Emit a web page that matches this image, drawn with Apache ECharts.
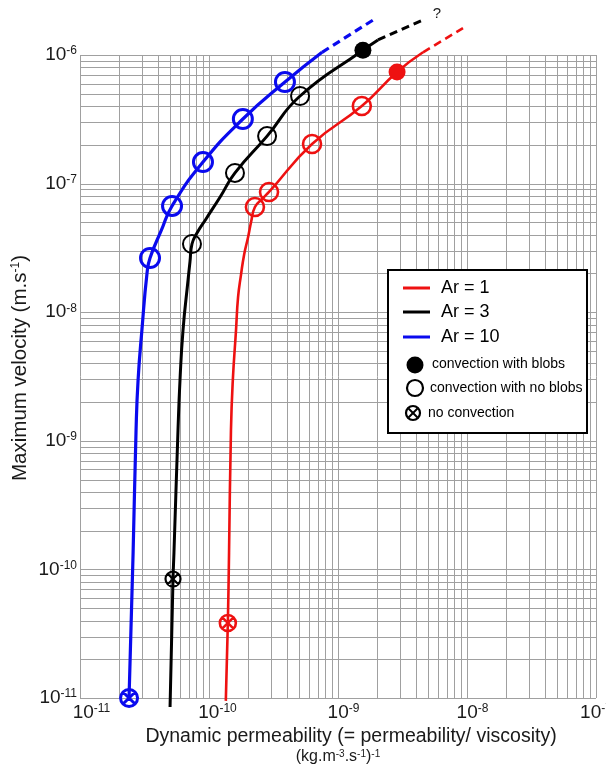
<!DOCTYPE html>
<html>
<head>
<meta charset="utf-8">
<script src="https://cdn.jsdelivr.net/npm/echarts@6/dist/echarts.min.js"></script>
<style>html,body{margin:0;padding:0;background:#fff}#c{width:606px;height:769px}</style>
</head>
<body>
<div id="c"></div>
<script>
// ---- data ----
const xTickExps = [-11, -10, -9, -8, -7];
const yTickExps = [-11, -10, -9, -8, -7, -6];

// Ar = 1 (red)
const ar1Line = [[1.35e-10,9.5e-12],[1.40e-10,3.83e-11],[1.43e-10,1.34e-10],[1.48e-10,1.21e-9],[1.53e-10,2.97e-9],[1.62e-10,7.27e-9],[1.68e-10,1.31e-8],[1.77e-10,1.95e-8],[1.87e-10,2.79e-8],[2.01e-10,3.85e-8],[2.12e-10,5.03e-8],[2.27e-10,6.58e-8],[2.58e-10,7.59e-8],[2.92e-10,8.61e-8],[6.29e-10,2.03e-7],[1.53e-9,4.01e-7],[2.87e-9,7.38e-7],[4.56e-9,1.05e-6]];
const ar1Dash = [[4.56e-9,1.05e-6],[9.31e-9,1.62e-6]];
const ar1Open = [[2.27e-10,6.58e-8],[2.92e-10,8.61e-8],[6.29e-10,2.03e-7],[1.53e-9,4.01e-7]];
const ar1Blob = [[2.87e-9,7.38e-7]];
const ar1NoConv = [[1.40e-10,3.83e-11]];

// Ar = 3 (black)
const ar3Line = [[4.99e-11,8.5e-12],[5.26e-11,8.42e-11],[5.35e-11,1.34e-10],[5.75e-11,1.21e-9],[5.96e-11,2.97e-9],[6.29e-11,7.27e-9],[6.88e-11,1.78e-8],[7.12e-11,2.46e-8],[7.38e-11,3.39e-8],[8.07e-11,4.13e-8],[9.48e-11,5.31e-8],[1.22e-10,7.87e-8],[1.59e-10,1.21e-7],[2.82e-10,2.34e-7],[5.08e-10,4.80e-7],[1.56e-9,1.09e-6],[2.04e-9,1.31e-6]];
const ar3Dash = [[2.04e-9,1.31e-6],[4.56e-9,1.87e-6]];
const ar3Open = [[7.38e-11,3.39e-8],[1.59e-10,1.21e-7],[2.82e-10,2.34e-7],[5.08e-10,4.80e-7]];
const ar3Blob = [[1.56e-9,1.09e-6]];
const ar3NoConv = [[5.26e-11,8.42e-11]];

// Ar = 10 (blue)
const ar10Line = [[2.40e-11,1.0e-11],[2.58e-11,1.34e-10],[2.72e-11,1.21e-9],[2.82e-11,2.97e-9],[3.02e-11,7.27e-9],[3.31e-11,2.02e-8],[3.49e-11,2.64e-8],[4.25e-11,4.28e-8],[5.17e-11,6.70e-8],[8.98e-11,1.47e-7],[1.83e-10,3.18e-7],[3.88e-10,6.17e-7],[7.52e-10,1.05e-6]];
const ar10Dash = [[7.52e-10,1.05e-6],[1.87e-9,1.87e-6]];
const ar10Open = [[3.49e-11,2.64e-8],[5.17e-11,6.70e-8],[8.98e-11,1.47e-7],[1.83e-10,3.18e-7],[3.88e-10,6.17e-7]];
const ar10NoConv = [[2.40e-11,1.0e-11]];

// ---- styling ----
const FONT = '"Liberation Sans", Arial, sans-serif';
const RED = '#ee1111', BLACK = '#000000', BLUE = '#0a0aee';
const GRID = '#a0a0a0';
const CROSS = 'path://M1,10 A9,9 0 1,1 19,10 A9,9 0 1,1 1,10 Z M3.6,3.6 L16.4,16.4 M16.4,3.6 L3.6,16.4';

const xMin = Math.pow(10, xTickExps[0]), xMax = Math.pow(10, xTickExps[xTickExps.length-1]);
const yMin = Math.pow(10, yTickExps[0]), yMax = Math.pow(10, yTickExps[yTickExps.length-1]);

// grid line positions at 1..9 x 10^n
function logGrid(exps) {
  const out = [];
  for (let i = 0; i < exps.length; i++) {
    const base = Math.pow(10, exps[i]);
    const kmax = i === exps.length - 1 ? 1 : 9;
    for (let k = 1; k <= kmax; k++) out.push(k * base);
  }
  return out;
}
const xGridVals = logGrid(xTickExps);
const yGridVals = logGrid(yTickExps);

function expOf(v) { return Math.round(Math.log10(v)); }

const supRich = {
  b: { fontSize: 19, lineHeight: 20, color: '#1a1a1a', fontFamily: FONT },
  s: { fontSize: 12, lineHeight: 12, color: '#1a1a1a', fontFamily: FONT, verticalAlign: 'top' },
  sp3: { width: 23 },
  sp2: { width: 17 },
  sp1: { width: 11 }
};

function lineSeries(name, data, color, width, dashed, z) {
  return {
    name: name, type: 'line', data: data, showSymbol: false, symbol: 'none',
    smooth: dashed ? false : 0.5, clip: false, z: z,
    lineStyle: { color: color, width: width, type: dashed ? [8, 5] : 'solid', cap: 'butt' },
    silent: true
  };
}
function markerSeries(name, data, symbol, size, fill, stroke, bw) {
  return {
    name: name, type: 'scatter', data: data, symbol: symbol, symbolSize: size, clip: false, z: 5,
    itemStyle: { color: fill, borderColor: stroke, borderWidth: bw, opacity: 1 },
    silent: true
  };
}
function crisp(v) { return Math.round(v) + 0.5; }

const chart = echarts.init(document.getElementById('c'), null, { renderer: 'canvas' });
chart.setOption({
  animation: false,
  backgroundColor: '#ffffff',
  grid: { left: 80, right: 10, top: 55, bottom: 71, containLabel: false, outerBoundsMode: 'none' },
  xAxis: {
    type: 'log', logBase: 10, min: xMin, max: xMax,
    axisLine: { show: false }, axisTick: { show: false }, splitLine: { show: false },
    axisLabel: {
      margin: 5, hideOverlap: false,
      formatter: function (v) {
        const e = expOf(v);
        let sp = '';
        if (e === xTickExps[0]) sp = '{sp3|}';
        else if (e === xTickExps[xTickExps.length - 1]) sp = '';
        else sp = String(e).length > 2 ? '{sp2|}' : '{sp1|}';
        return sp + '{b|10}{s|' + e + '}';
      },
      rich: supRich
    }
  },
  yAxis: {
    type: 'log', logBase: 10, min: yMin, max: yMax,
    axisLine: { show: false }, axisTick: { show: false }, splitLine: { show: false },
    axisLabel: {
      margin: 3, hideOverlap: false,
      formatter: function (v) { return '{b|10}{s|' + expOf(v) + '}'; },
      rich: supRich
    }
  },
  series: [
    {
      name: 'xgrid', type: 'custom', z: 0, silent: true, clip: false,
      data: xGridVals.map(function (v) { return [v, yMin]; }),
      renderItem: function (params, api) {
        const v = api.value(0);
        const a = api.coord([v, yMin]), b = api.coord([v, yMax]);
        const x = crisp(a[0]);
        return { type: 'line', shape: { x1: x, y1: a[1], x2: x, y2: b[1] }, style: { stroke: GRID, lineWidth: 1 } };
      }
    },
    {
      name: 'ygrid', type: 'custom', z: 0, silent: true, clip: false,
      data: yGridVals.map(function (v) { return [xMin, v]; }),
      renderItem: function (params, api) {
        const v = api.value(1);
        const a = api.coord([xMin, v]), b = api.coord([xMax, v]);
        const y = crisp(a[1]);
        return { type: 'line', shape: { x1: a[0], y1: y, x2: b[0], y2: y }, style: { stroke: GRID, lineWidth: 1 } };
      }
    },
    lineSeries('Ar = 1', ar1Line, RED, 2.6, false, 3),
    lineSeries('Ar = 1 ext', ar1Dash, RED, 2.6, true, 3),
    lineSeries('Ar = 3', ar3Line, BLACK, 3, false, 3),
    lineSeries('Ar = 3 ext', ar3Dash, BLACK, 3, true, 3),
    lineSeries('Ar = 10', ar10Line, BLUE, 3.2, false, 3),
    lineSeries('Ar = 10 ext', ar10Dash, BLUE, 3.2, true, 3),
    markerSeries('Ar=1 no blobs', ar1Open, 'circle', 18, 'transparent', RED, 2.6),
    markerSeries('Ar=1 blobs', ar1Blob, 'circle', 17, RED, RED, 0),
    markerSeries('Ar=1 no convection', ar1NoConv, CROSS, 16, 'transparent', RED, 2.6),
    markerSeries('Ar=3 no blobs', ar3Open, 'circle', 18, 'transparent', BLACK, 2),
    markerSeries('Ar=3 blobs', ar3Blob, 'circle', 17, BLACK, BLACK, 0),
    markerSeries('Ar=3 no convection', ar3NoConv, CROSS, 15, 'transparent', BLACK, 2.2),
    markerSeries('Ar=10 no blobs', ar10Open, 'circle', 19, 'transparent', BLUE, 3),
    markerSeries('Ar=10 no convection', ar10NoConv, CROSS, 17, 'transparent', BLUE, 3)
  ],
  graphic: [
    // axis titles
    {
      type: 'text', x: 20, y: 368, rotation: Math.PI / 2, z: 10,
      style: {
        text: 'Maximum velocity (m.s{s|-1})', fill: '#1a1a1a',
        font: '20.5px ' + FONT, align: 'center', verticalAlign: 'middle',
        rich: { s: { fontSize: 12, lineHeight: 12, verticalAlign: 'top', fill: '#1a1a1a', fontFamily: FONT } }
      }
    },
    {
      type: 'text', x: 351, y: 737, z: 10,
      style: { text: 'Dynamic permeability (= permeability/ viscosity)', fill: '#1a1a1a', font: '19.5px ' + FONT, align: 'center', verticalAlign: 'middle' }
    },
    {
      type: 'text', x: 338, y: 757, z: 10,
      style: {
        text: '(kg.m{s|-3}.s{s|-1}){s|-1}', fill: '#1a1a1a', font: '16px ' + FONT, align: 'center', verticalAlign: 'middle',
        rich: { s: { fontSize: 10, lineHeight: 10, verticalAlign: 'top', fill: '#1a1a1a', fontFamily: FONT } }
      }
    },
    { type: 'text', x: 437, y: 14, z: 10, style: { text: '?', fill: '#1a1a1a', font: '15px ' + FONT, align: 'center', verticalAlign: 'middle' } },
    // legend box
    { type: 'rect', z: 20, shape: { x: 388, y: 270, width: 199, height: 163 }, style: { fill: '#ffffff', stroke: '#000000', lineWidth: 2 } },
    { type: 'line', z: 21, shape: { x1: 403, y1: 288, x2: 430, y2: 288 }, style: { stroke: RED, lineWidth: 3 } },
    { type: 'line', z: 21, shape: { x1: 403, y1: 312, x2: 430, y2: 312 }, style: { stroke: BLACK, lineWidth: 3 } },
    { type: 'line', z: 21, shape: { x1: 403, y1: 337, x2: 430, y2: 337 }, style: { stroke: BLUE, lineWidth: 3 } },
    { type: 'text', z: 21, x: 441, y: 288, style: { text: 'Ar = 1', fill: '#000', font: '18px ' + FONT, verticalAlign: 'middle' } },
    { type: 'text', z: 21, x: 441, y: 312, style: { text: 'Ar = 3', fill: '#000', font: '18px ' + FONT, verticalAlign: 'middle' } },
    { type: 'text', z: 21, x: 441, y: 337, style: { text: 'Ar = 10', fill: '#000', font: '18px ' + FONT, verticalAlign: 'middle' } },
    { type: 'circle', z: 21, shape: { cx: 415, cy: 365, r: 8.5 }, style: { fill: '#000' } },
    { type: 'text', z: 21, x: 432, y: 364, style: { text: 'convection with blobs', fill: '#000', font: '14px ' + FONT, verticalAlign: 'middle' } },
    { type: 'circle', z: 21, shape: { cx: 415, cy: 388, r: 8 }, style: { fill: '#fff', stroke: '#000', lineWidth: 2.2 } },
    { type: 'text', z: 21, x: 430, y: 388, style: { text: 'convection with no blobs', fill: '#000', font: '14px ' + FONT, verticalAlign: 'middle' } },
    { type: 'circle', z: 21, shape: { cx: 413, cy: 413, r: 7 }, style: { fill: '#fff', stroke: '#000', lineWidth: 2.2 } },
    { type: 'line', z: 21, shape: { x1: 408.5, y1: 408.5, x2: 417.5, y2: 417.5 }, style: { stroke: '#000', lineWidth: 2 } },
    { type: 'line', z: 21, shape: { x1: 417.5, y1: 408.5, x2: 408.5, y2: 417.5 }, style: { stroke: '#000', lineWidth: 2 } },
    { type: 'text', z: 21, x: 428, y: 413, style: { text: 'no convection', fill: '#000', font: '14px ' + FONT, verticalAlign: 'middle' } }
  ]
});
</script>
</body>
</html>
